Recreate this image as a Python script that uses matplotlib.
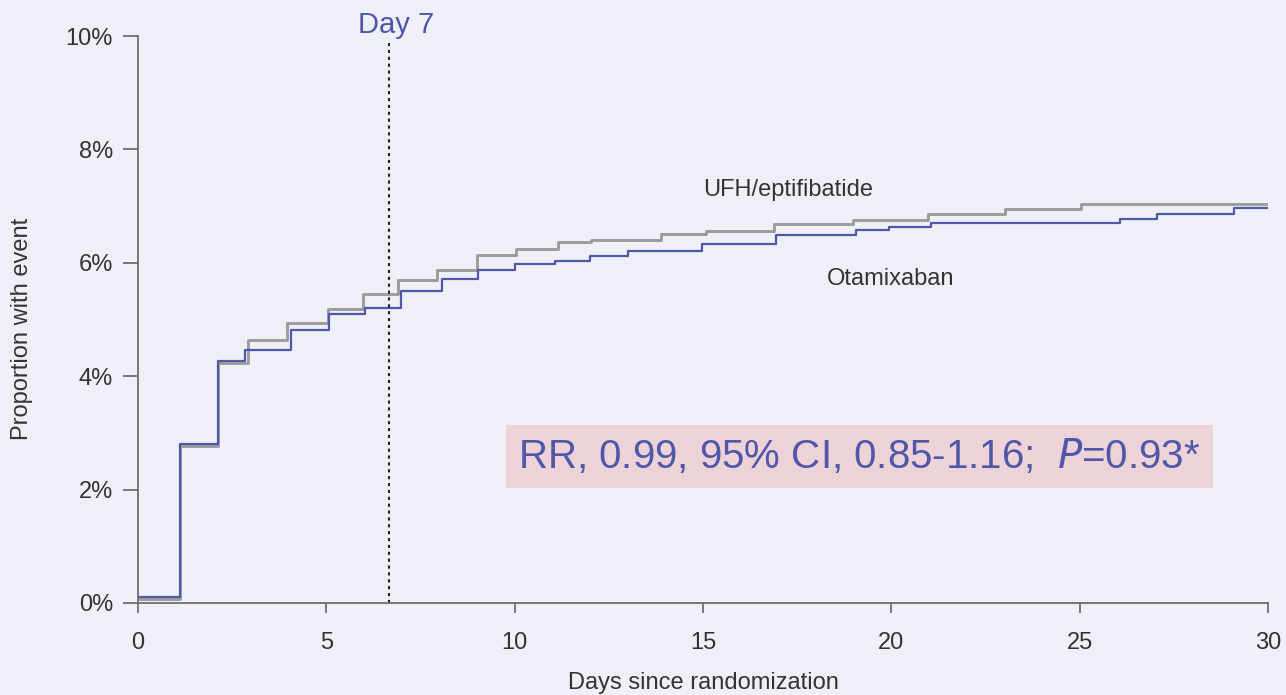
import matplotlib
matplotlib.use("Agg")
import matplotlib.pyplot as plt

plt.rcParams["font.family"] = ["Liberation Sans", "DejaVu Sans"]

# cumulative event proportion (%), step changes at these days
ufh_days = [0, 1.11, 2.13, 2.93, 3.95, 5.04, 5.98, 6.91, 7.93, 8.99, 10.03, 11.14,
            12.04, 13.88, 15.08, 16.88, 18.98, 20.98, 23.02, 25.03, 30]
ufh_pct = [0.065, 2.77, 4.24, 4.64, 4.93, 5.18, 5.45, 5.70, 5.88, 6.14, 6.24, 6.37,
           6.41, 6.51, 6.56, 6.68, 6.76, 6.86, 6.95, 7.04, 7.04]

ota_days = [0, 1.11, 2.13, 2.84, 4.05, 5.06, 6.03, 6.97, 8.06, 9.04, 10.0, 11.06,
            12.01, 13.02, 14.97, 16.94, 19.05, 19.95, 21.05, 26.06, 27.05, 29.11, 30]
ota_pct = [0.11, 2.80, 4.27, 4.47, 4.81, 5.10, 5.21, 5.50, 5.72, 5.88, 5.97, 6.04,
           6.12, 6.21, 6.34, 6.49, 6.57, 6.64, 6.71, 6.78, 6.86, 6.97, 6.97]

x_ticks = [0, 5, 10, 15, 20, 25, 30]
y_ticks = [0, 2, 4, 6, 8, 10]
day7_x = 6.66

BG = "#efeff7"
BLUE = "#4f57a8"
GRAY = "#9c9c9e"
AXIS = "#6e6e72"
TXT = "#333333"

fig = plt.figure(figsize=(12.86, 6.95), dpi=100, facecolor=BG)
ax = fig.add_axes([0.1073, 0.1324, 0.8787, 0.8158], facecolor=BG)

ax.step(ufh_days, ufh_pct, where="post", color=GRAY, lw=2.1)
ax.step(ota_days, ota_pct, where="post", color=BLUE, lw=1.6)

ax.axvline(day7_x, ymin=0, ymax=0.99, color="#222222", lw=1.5, ls=(0, (1.5, 1.8)))
ax.text(6.86, 10.05, "Day 7", color=BLUE, fontsize=21, ha="center", va="baseline")

ax.text(17.26, 7.28, "UFH/eptifibatide", color=TXT, fontsize=17, ha="center", va="center")
ax.text(19.99, 5.71, "Otamixaban", color=TXT, fontsize=17, ha="center", va="center")

ax.text(10.1, 2.59, "RR, 0.99, 95% CI, 0.85-1.16;  $\\it{P}$=0.93*", color=BLUE,
        fontsize=29, ha="left", va="center",
        bbox=dict(boxstyle="square,pad=0.3", fc="#edd3d8", ec="none"))

ax.set_xlim(0, 30)
ax.set_ylim(0, 10)
ax.set_xticks(x_ticks)
ax.set_yticks(y_ticks)
ax.set_yticklabels([f"{v}%" for v in y_ticks])
ax.tick_params(colors=AXIS, labelcolor=TXT, labelsize=17, width=1.3, direction="out")
ax.tick_params(axis="y", length=11, pad=7)
ax.tick_params(axis="x", length=7, pad=14)
for s in ["top", "right"]:
    ax.spines[s].set_visible(False)
for s in ["left", "bottom"]:
    ax.spines[s].set_color(AXIS)
    ax.spines[s].set_linewidth(1.3)

fig.text(703 / 1286, 0.017, "Days since randomization", fontsize=17, color=TXT,
         ha="center", va="center")
fig.text(22 / 1286, 0.527, "Proportion with event", fontsize=17, color=TXT,
         ha="center", va="center", rotation=90)

fig.savefig("out.png", dpi=100, facecolor=BG)
